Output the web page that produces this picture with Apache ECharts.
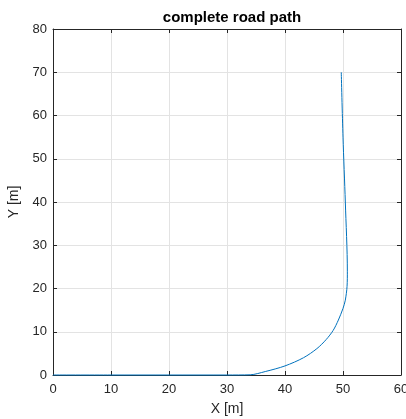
<!DOCTYPE html>
<html>
<head>
<meta charset="utf-8">
<script src="https://cdn.jsdelivr.net/npm/echarts@6/dist/echarts.min.js"></script>
<style>
  html, body { margin: 0; padding: 0; background: #fff; }
  #chart { width: 406px; height: 419px; }
</style>
</head>
<body>
<div id="chart"></div>
<script>
// Road centreline: straight run, transition curve, then near-vertical leg
const pathX = [0, 10, 20, 30, 34.0, 36.6, 40.0, 43.2, 45.5, 47.1, 48.3, 49.2, 50.0, 50.4, 50.7, 50.75, 50.4, 50.0, 49.7];
const pathY = [0, 0, 0, 0, 0.05, 0.8, 2.1, 4.0, 6.1, 8.2, 10.3, 12.7, 15.4, 17.3, 20.5, 24.0, 40.0, 55.0, 70.0];

const xTicks = [0, 10, 20, 30, 40, 50, 60];
const yTicks = [0, 10, 20, 30, 40, 50, 60, 70, 80];

const FONT = '"Liberation Sans", Arial, Helvetica, sans-serif';
const INK = '#262626';

const chart = echarts.init(document.getElementById('chart'));

const baseAxis = {
  type: 'value',
  axisLine: { show: true, onZero: false, lineStyle: { color: INK, width: 1 } },
  axisTick: { show: true, inside: true, length: 4, lineStyle: { color: INK } },
  splitLine: { show: false },
  axisLabel: { show: false }
};

chart.setOption({
  animation: false,
  title: {
    text: 'complete road path',
    left: 227, top: 5, textAlign: 'center',
    textStyle: { fontFamily: FONT, fontSize: 15, fontWeight: 'bold', color: '#000' }
  },
  grid: { left: 53, right: 5, top: 29, bottom: 44, show: false, outerBoundsMode: 'none', containLabel: false },
  xAxis: [
    {
      type: 'value', min: xTicks[0], max: xTicks[xTicks.length - 1], interval: 10,
      position: 'bottom',
      name: 'X [m]', nameLocation: 'middle', nameGap: 27,
      nameTextStyle: { fontFamily: FONT, fontSize: 14, color: INK },
      axisLine: { show: true, onZero: false, lineStyle: { color: INK, width: 1 } },
      axisTick: { show: true, inside: true, length: 4, lineStyle: { color: INK } },
      axisLabel: { fontFamily: FONT, fontSize: 13, color: INK, margin: 8 },
      splitLine: { show: true, lineStyle: { color: '#e3e3e3', width: 1 } }
    },
    Object.assign({}, baseAxis, { min: 0, max: 60, interval: 10, position: 'top' })
  ],
  yAxis: [
    {
      type: 'value', min: yTicks[0], max: yTicks[yTicks.length - 1], interval: 10,
      position: 'left',
      name: 'Y [m]', nameLocation: 'middle', nameGap: 28, nameRotate: 90,
      nameTextStyle: { fontFamily: FONT, fontSize: 14, color: INK },
      axisLine: { show: true, onZero: false, lineStyle: { color: INK, width: 1 } },
      axisTick: { show: true, inside: true, length: 4, lineStyle: { color: INK } },
      axisLabel: { fontFamily: FONT, fontSize: 13, color: INK, margin: 6 },
      splitLine: { show: true, lineStyle: { color: '#e3e3e3', width: 1 } }
    },
    Object.assign({}, baseAxis, { min: 0, max: 80, interval: 10, position: 'right' })
  ],
  series: [{
    type: 'line',
    data: pathX.map((x, i) => [x, pathY[i]]),
    smooth: 0.3,
    showSymbol: false,
    clip: false,
    z: 10,
    lineStyle: { color: '#0072BD', width: 1 }
  }]
});
</script>
</body>
</html>
